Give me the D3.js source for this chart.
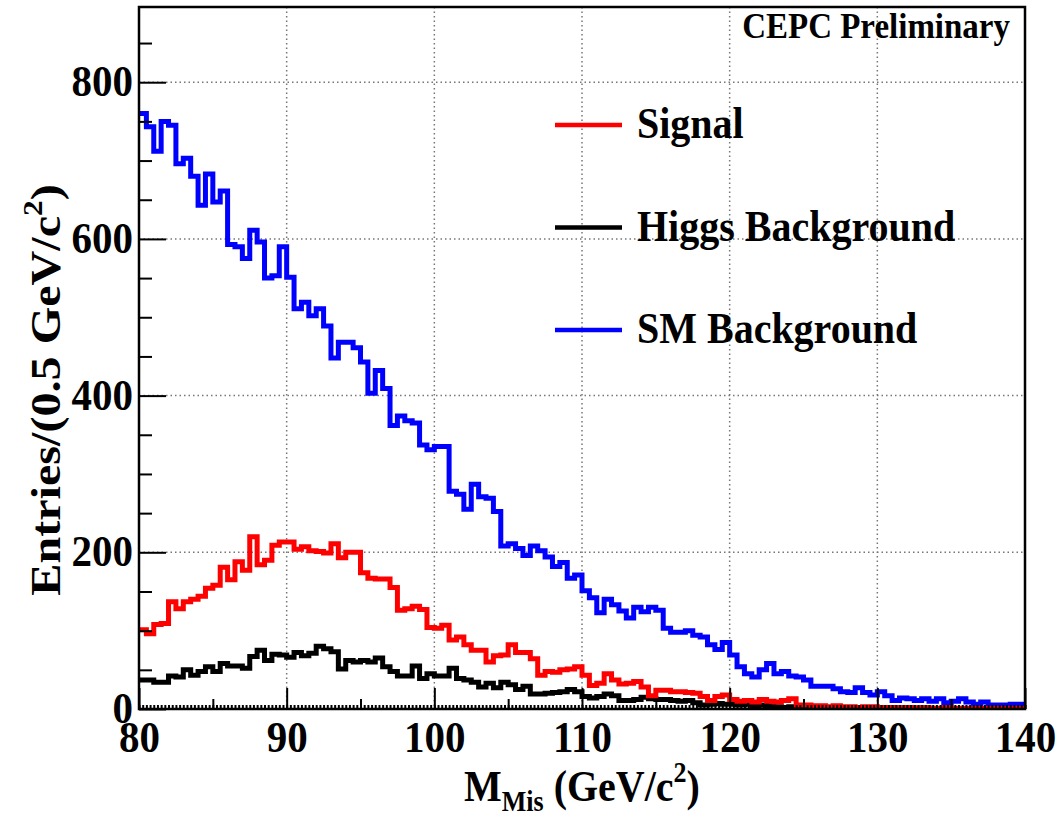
<!DOCTYPE html>
<html lang="en">
<head>
<meta charset="UTF-8">
<title>M_Mis distribution</title>
<script src="https://cdn.jsdelivr.net/npm/d3@7"></script>
<style>
  body { margin: 0; background: #fff; }
  svg text { font-family: "Liberation Serif", "Times New Roman", serif; font-weight: bold; fill: #000; }
</style>
</head>
<body>
<svg id="chart" width="1058" height="821"></svg>
<script>
// histogram bins: 80 -> 140 GeV, 0.5 GeV wide (120 bins)
var binStart = 80,
    binWidth = 0.5;

var signal = [
    101, 96, 108, 109, 137, 128, 137, 140, 144, 154,
    158, 181, 165, 188, 177, 220, 184, 190, 209, 213,
    213, 204, 207, 202, 201, 199, 211, 193, 200, 200,
    174, 167, 166, 166, 155, 126, 128, 131, 127, 104,
    103, 107, 88, 92, 82, 75, 75, 60, 68, 69,
    82, 72, 72, 64, 43, 48, 47, 50, 51, 54,
    43, 30, 33, 45, 37, 32, 33, 35, 28, 17,
    24, 24, 22, 22, 21, 20, 16, 11, 16, 18,
    12, 10, 11, 9, 12, 10, 9, 11, 13, 5,
    5, 4, 4, 3, 4, 3, 3, 2, 3, 3,
    2, 2, 2, 2, 2, 1, 2, 1, 1, 2,
    1, 1, 1, 1, 1, 1, 1, 0, 1, 1
];

var higgsBkg = [
    37, 37, 34, 34, 42, 41, 50, 43, 48, 54,
    48, 58, 55, 55, 52, 67, 75, 62, 70, 69,
    66, 72, 68, 71, 80, 77, 73, 51, 62, 60,
    62, 60, 65, 54, 48, 42, 42, 55, 39, 45,
    42, 42, 52, 39, 37, 34, 28, 33, 27, 34,
    31, 25, 29, 19, 19, 20, 21, 22, 25, 22,
    16, 14, 16, 19, 17, 11, 11, 12, 15, 13,
    12, 12, 11, 10, 11, 8, 5, 6, 7, 6,
    6, 5, 6, 4, 5, 4, 3, 2, 3, 2,
    2, 1, 2, 1, 1, 1, 1, 1, 1, 0,
    1, 0, 1, 0, 0, 1, 0, 0, 0, 1,
    0, 0, 0, 0, 0, 0, 0, 0, 0, 0
];

var smBkg = [
    760, 743, 712, 750, 745, 696, 703, 680, 643, 683,
    647, 661, 593, 590, 575, 611, 596, 550, 553, 590,
    551, 511, 519, 502, 511, 489, 448, 468, 468, 461,
    443, 403, 432, 409, 362, 374, 368, 365, 337, 331,
    335, 335, 278, 274, 255, 287, 271, 269, 252, 208,
    211, 205, 196, 208, 202, 194, 182, 187, 167, 171,
    151, 142, 123, 140, 133, 125, 116, 130, 124, 130,
    126, 103, 98, 98, 100, 94, 92, 82, 76, 85,
    69, 54, 45, 41, 50, 58, 45, 48, 42, 41,
    37, 29, 29, 29, 26, 22, 21, 27, 21, 18,
    22, 17, 11, 14, 13, 11, 13, 10, 13, 8,
    10, 13, 9, 6, 9, 5, 5, 5, 6, 6
];

var xTicks = [80, 90, 100, 110, 120, 130, 140];
var yTicks = [0, 200, 400, 600, 800];
var legendNames = ['Signal', 'Higgs Background', 'SM Background'];
var legendColors = ['#ff0000', '#000000', '#0000ff'];

var svg = d3.select('#chart'),
    width = 1058,
    height = 821,
    margin = {top: 7, right: 33, bottom: 112, left: 139},
    plotW = width - margin.left - margin.right,
    plotH = height - margin.top - margin.bottom,
    stretch = 1.1; // the original text is a bit taller than Liberation Serif

var x = d3.scaleLinear().domain([80, 140]).range([0, plotW]);
var y = d3.scaleLinear().domain([0, 896]).range([plotH, 0]);

var g = svg.append('g')
    .attr('transform', 'translate(' + margin.left + ',' + margin.top + ')');

g.append('clipPath').attr('id', 'plotclip')
    .append('rect').attr('width', plotW).attr('height', plotH);

// dotted grid
g.append('g').selectAll('line.gx')
    .data(xTicks.slice(1, -1))
    .enter().append('line')
    .attr('x1', function(d) { return x(d); })
    .attr('x2', function(d) { return x(d); })
    .attr('y1', 0).attr('y2', plotH)
    .attr('stroke', '#777').attr('stroke-width', 1.5)
    .attr('stroke-dasharray', '1.5,3');

g.append('g').selectAll('line.gy')
    .data(yTicks.slice(1))
    .enter().append('line')
    .attr('x1', 0).attr('x2', plotW)
    .attr('y1', function(d) { return y(d); })
    .attr('y2', function(d) { return y(d); })
    .attr('stroke', '#777').attr('stroke-width', 1.5)
    .attr('stroke-dasharray', '1.5,3');

// histograms as step lines
var histLine = d3.line()
    .x(function(d) { return x(d[0]); })
    .y(function(d) { return y(d[1]); })
    .curve(d3.curveStepAfter);

var toSteps = function(arr) {
    var pts = arr.map(function(v, i) { return [binStart + i * binWidth, v]; });
    pts.push([binStart + arr.length * binWidth, arr[arr.length - 1]]);
    return pts;
};

var hists = [
    {values: smBkg, color: legendColors[2]},
    {values: higgsBkg, color: legendColors[1]},
    {values: signal, color: legendColors[0]}
];

g.append('g').attr('clip-path', 'url(#plotclip)')
    .selectAll('path')
    .data(hists)
    .enter().append('path')
    .attr('d', function(d) { return histLine(toSteps(d.values)); })
    .attr('fill', 'none')
    .attr('stroke', function(d) { return d.color; })
    .attr('stroke-width', 5)
    .attr('stroke-linejoin', 'miter');

// axes (ticks point inward, ROOT style)
var xAxis = g.append('g')
    .attr('transform', 'translate(0,' + plotH + ')')
    .call(d3.axisBottom(x).tickValues(xTicks).tickSize(-21).tickPadding(10).tickFormat(d3.format('d')));
xAxis.selectAll('text')
    .attr('font-size', 41)
    .attr('dy', '0.71em')
    .attr('transform', 'scale(1,' + stretch + ')');

g.append('g')
    .attr('transform', 'translate(0,' + plotH + ')')
    .call(d3.axisBottom(x).tickValues(d3.range(85, 140, 10)).tickSize(-10).tickFormat(''))
    .call(function(s) { s.select('.domain').remove(); });

g.append('g')
    .attr('transform', 'translate(0,' + plotH + ')')
    .call(d3.axisBottom(x).tickValues(d3.range(80, 140.01, 0.25)).tickSize(-4).tickFormat(''))
    .call(function(s) { s.select('.domain').remove(); });

var yAxis = g.append('g')
    .call(d3.axisLeft(y).tickValues(yTicks).tickSize(-27).tickPadding(6));
yAxis.selectAll('text')
    .attr('font-size', 41)
    .attr('dy', '0.3em')
    .attr('transform', 'scale(1,' + stretch + ')');

g.append('g')
    .call(d3.axisLeft(y).tickValues(d3.range(50, 896, 50).filter(function(d) { return d % 200 !== 0; })).tickSize(-13).tickFormat(''))
    .call(function(s) { s.select('.domain').remove(); });

g.selectAll('.tick line').attr('stroke', '#000').attr('stroke-width', 2);

// frame
g.append('rect')
    .attr('width', plotW).attr('height', plotH)
    .attr('fill', 'none').attr('stroke', '#000').attr('stroke-width', 2.5);

// axis titles
var xTitle = svg.append('text')
    .attr('transform', 'translate(' + (margin.left + plotW / 2) + ',801) scale(1,' + stretch + ')')
    .attr('text-anchor', 'middle')
    .attr('font-size', 40);
xTitle.append('tspan').text('M');
xTitle.append('tspan').attr('font-size', 26).attr('dy', 9).text('Mis');
xTitle.append('tspan').attr('dy', -9).text(' (GeV/c');
xTitle.append('tspan').attr('font-size', 26).attr('dy', -17).text('2');
xTitle.append('tspan').attr('dy', 17).text(')');

var yTitle = svg.append('text')
    .attr('transform', 'translate(60,390) scale(1,' + (stretch + 0.02) + ') rotate(-90)')
    .attr('text-anchor', 'middle')
    .attr('font-size', 43);
yTitle.append('tspan').text('Entries/(0.5 GeV/c');
yTitle.append('tspan').attr('font-size', 28).attr('dy', -18).text('2');
yTitle.append('tspan').attr('dy', 18).text(')');

// legend
var legend = svg.append('g').selectAll('g')
    .data(legendNames)
    .enter().append('g')
    .attr('transform', function(d, i) { return 'translate(555,' + (125 + i * 102.5) + ')'; });

legend.append('line')
    .attr('x1', 0).attr('x2', 67)
    .attr('stroke', function(d, i) { return legendColors[i]; })
    .attr('stroke-width', 4.5);

legend.append('text')
    .attr('transform', 'translate(82,13) scale(1,' + stretch + ')')
    .attr('font-size', 40)
    .text(function(d) { return d; });

svg.append('text')
    .attr('transform', 'translate(1010,38) scale(1,' + stretch + ')')
    .attr('text-anchor', 'end')
    .attr('font-size', 33)
    .text('CEPC Preliminary');
</script>
</body>
</html>
